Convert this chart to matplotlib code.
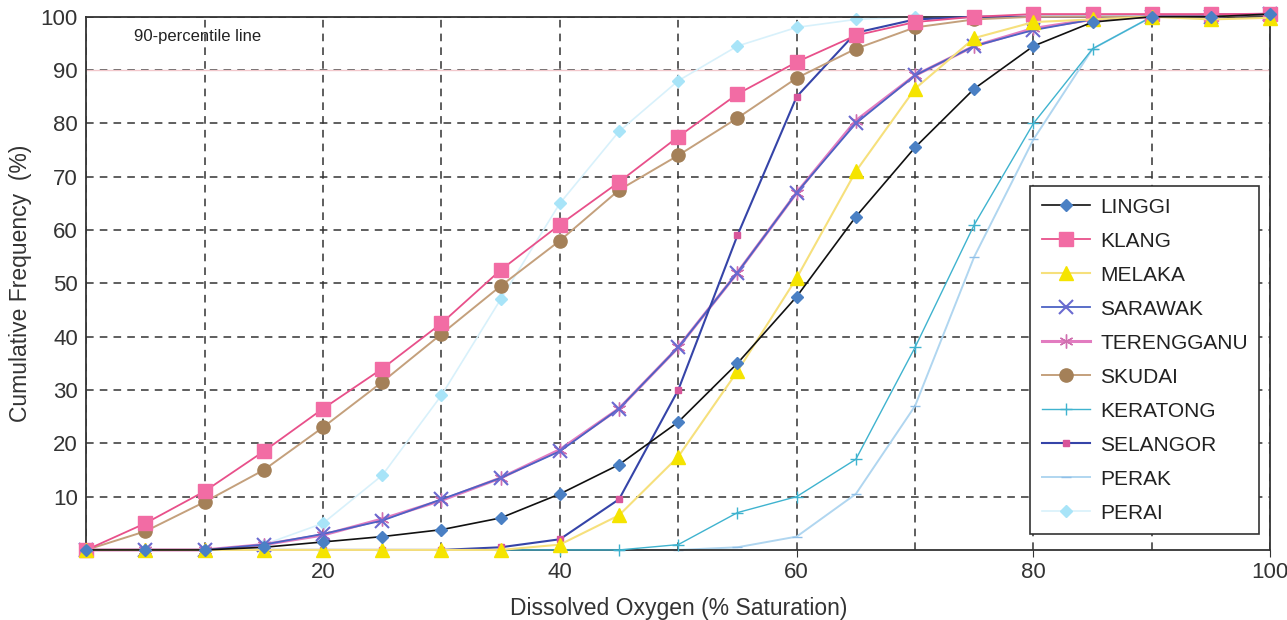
import numpy as np
import matplotlib.pyplot as plt

plt.rcParams['font.family'] = ['Liberation Sans', 'DejaVu Sans']

do_sat = [0, 5, 10, 15, 20, 25, 30, 35, 40, 45, 50, 55, 60, 65, 70, 75, 80, 85, 90, 95, 100]

linggi = [0, 0, 0, 0.5, 1.5, 2.5, 3.8, 6, 10.5, 16, 24, 35, 47.5, 62.5, 75.5, 86.5, 94.5, 99, 100, 100, 100.5]
klang = [0, 5, 11, 18.5, 26.5, 34, 42.5, 52.5, 61, 69, 77.5, 85.5, 91.5, 96.5, 99, 100, 100.5, 100.5, 100.5, 100.5, 100.5]
melaka = [0, 0, 0, 0, 0, 0, 0, 0, 1, 6.5, 17.5, 33.5, 51, 71, 86.5, 96, 99, 99.5, 100, 99.5, 99.8]
sarawak = [0, 0, 0, 1, 3, 5.5, 9.5, 13.5, 18.5, 26.5, 38, 52, 67, 80, 89, 94.5, 97.5, 99.5, 100, 100, 100.5]
terengganu = [0, 0, 0, 1, 2.8, 5.8, 9.3, 13.5, 18.8, 26.5, 38, 52, 67, 80.5, 89, 94.5, 97.8, 99.5, 100, 100.3, 100.5]
skudai = [0, 3.5, 9, 15, 23, 31.5, 40.5, 49.5, 58, 67.5, 74, 81, 88.5, 94, 98, 99.5, 100, 100, 100, 100, 100.5]
keratong = [0, 0, 0, 0, 0, 0, 0, 0, 0, 0, 1, 7, 10, 17, 38, 61, 80, 94, 100, 100.5, 100.5]
selangor = [0, 0, 0, 0, 0, 0, 0, 0.5, 2, 9.5, 30, 59, 85, 97, 99.5, 100, 100, 100, 100, 100, 100.5]
perak = [0, 0, 0, 0, 0, 0, 0, 0, 0, 0, 0, 0.5, 2.5, 10.5, 27, 55, 77, 94, 100, 100.5, 100.5]
perai = [0, 0, 0, 1, 5, 14, 29, 47, 65, 78.5, 88, 94.5, 98, 99.5, 100, 100, 100, 100, 100, 100, 100.5]

fig = plt.figure(figsize=(12.87, 6.20), dpi=100)
ax = fig.add_axes([0.067, 0.113, 0.92, 0.86])

ax.set_xlim(0, 100)
ax.set_ylim(0, 100)
ax.set_xticks([20, 40, 60, 80, 100])
ax.set_xticks(np.arange(0, 101, 10), minor=True)
ax.set_yticks(np.arange(10, 101, 10))
ax.tick_params(axis='both', labelsize=16, colors='#333333', length=5)
ax.tick_params(axis='x', which='minor', length=0)
ax.tick_params(axis='y', length=0, pad=6)
ax.grid(True, which='both', linestyle=(0, (5, 4)), color='#333333', linewidth=1.1)
ax.set_axisbelow(True)
for s in ax.spines.values():
    s.set_color('#333333')
    s.set_linewidth(1.3)

# faint 90-percentile line
ax.axhline(90, color='#f2c8cc', linewidth=1, zorder=1)
ax.text(4, 95.5, '90-percentile line', fontsize=12, color='#222222')

common = dict(clip_on=False)
ax.plot(do_sat, perai, color='#d8f1fb', marker='D', markersize=6.5, mfc='#a8e4f8', mec='#a8e4f8', lw=1.2, label='PERAI', zorder=2, **common)
ax.plot(do_sat, perak, color='#b0d6f0', marker='_', markersize=7, mec='#90c0e8', lw=1.4, label='PERAK', zorder=2, **common)
ax.plot(do_sat, keratong, color='#3fb3cf', marker='+', markersize=9, mec='#3fb3cf', lw=1, label='KERATONG', zorder=3, **common)
ax.plot(do_sat, terengganu, color='#e27cc0', marker=(6, 2, 0), markersize=10, mec='#d070b0', lw=2.2, label='TERENGGANU', zorder=3, **common)
ax.plot(do_sat, sarawak, color='#4c62c4', marker='x', markersize=10, mec='#6a6ad0', mew=1.5, lw=1.3, label='SARAWAK', zorder=4, **common)
ax.plot(do_sat, selangor, color='#3544a8', marker='s', markersize=4, mfc='#d8559a', mec='#d8559a', lw=1.5, label='SELANGOR', zorder=4, **common)
ax.plot(do_sat, skudai, color='#c4a07c', marker='o', markersize=9.5, mfc='#a48058', mec='#a48058', lw=1.4, label='SKUDAI', zorder=4, **common)
ax.plot(do_sat, klang, color='#e8508a', marker='s', markersize=9.5, mfc='#f26ca4', mec='#f26ca4', lw=1.3, label='KLANG', zorder=5, **common)
ax.plot(do_sat, melaka, color='#f6e07c', marker='^', markersize=10.5, mfc='#f5e400', mec='#f5e400', lw=1.5, label='MELAKA', zorder=5, **common)
ax.plot(do_sat, linggi, color='#111111', marker='D', markersize=6.5, mfc='#4a80c4', mec='#4a80c4', lw=1.2, label='LINGGI', zorder=6, **common)

handles, labels = ax.get_legend_handles_labels()
order = ['LINGGI', 'KLANG', 'MELAKA', 'SARAWAK', 'TERENGGANU', 'SKUDAI', 'KERATONG', 'SELANGOR', 'PERAK', 'PERAI']
hmap = dict(zip(labels, handles))
leg = ax.legend([hmap[k] for k in order], order, loc='lower right', bbox_to_anchor=(0.9995, 0.01),
                fontsize=15, frameon=True, fancybox=False, edgecolor='#333333', framealpha=1,
                handlelength=2.3, labelspacing=0.72, borderpad=0.55, handletextpad=0.5)
leg.get_frame().set_linewidth(1.2)
for t in leg.get_texts():
    t.set_color('#222222')

ax.set_xlabel('Dissolved Oxygen (% Saturation)', fontsize=16.5, color='#333333', labelpad=10)
ax.set_ylabel('Cumulative Frequency  (%)', fontsize=16.5, color='#333333', labelpad=6)

fig.savefig('out.png', dpi=100)
